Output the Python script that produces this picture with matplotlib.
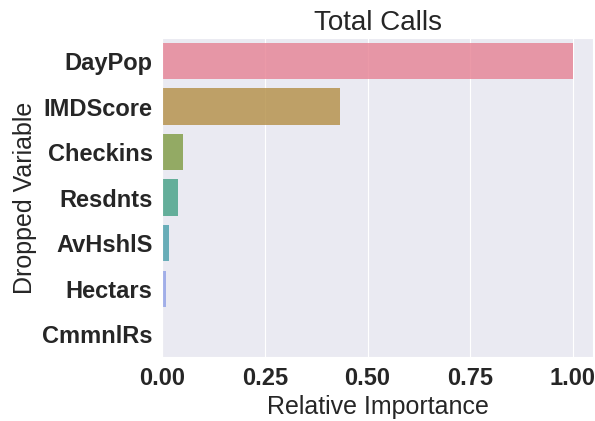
import matplotlib
matplotlib.use("Agg")
import matplotlib.pyplot as plt
import seaborn as sns
import pandas as pd

# relative importance after dropping each variable
variables = ["DayPop", "IMDScore", "Checkins", "Resdnts", "AvHshlS", "Hectars", "CmmnlRs"]
importance = [1.0, 0.434, 0.051, 0.039, 0.016, 0.009, 0.0]

sns.set_style("darkgrid")
plt.rcParams["font.family"] = ["Liberation Sans", "DejaVu Sans"]

df = pd.DataFrame({"var": variables, "imp": importance})

fig = plt.figure(figsize=(5.95, 4.21), dpi=100)
ax = fig.add_axes([0.273, 0.152, 0.724, 0.757])
sns.barplot(data=df, x="imp", y="var", hue="var", palette="husl",
            legend=False, ax=ax, saturation=0.75, alpha=0.8, linewidth=0)

ax.set_title("Total Calls", fontsize=20, color="#262626")
ax.set_xlabel("Relative Importance", fontsize=18, color="#262626")
ax.set_ylabel("Dropped Variable", fontsize=18, color="#262626")
ax.set_xticks([0.0, 0.25, 0.5, 0.75, 1.0])
ax.set_xticklabels(["0.00", "0.25", "0.50", "0.75", "1.00"])
for lab in ax.get_xticklabels() + ax.get_yticklabels():
    lab.set_fontweight("bold")
    lab.set_fontsize(17)
ax.grid(axis="y", visible=False)

fig.savefig("out.png", dpi=100)
